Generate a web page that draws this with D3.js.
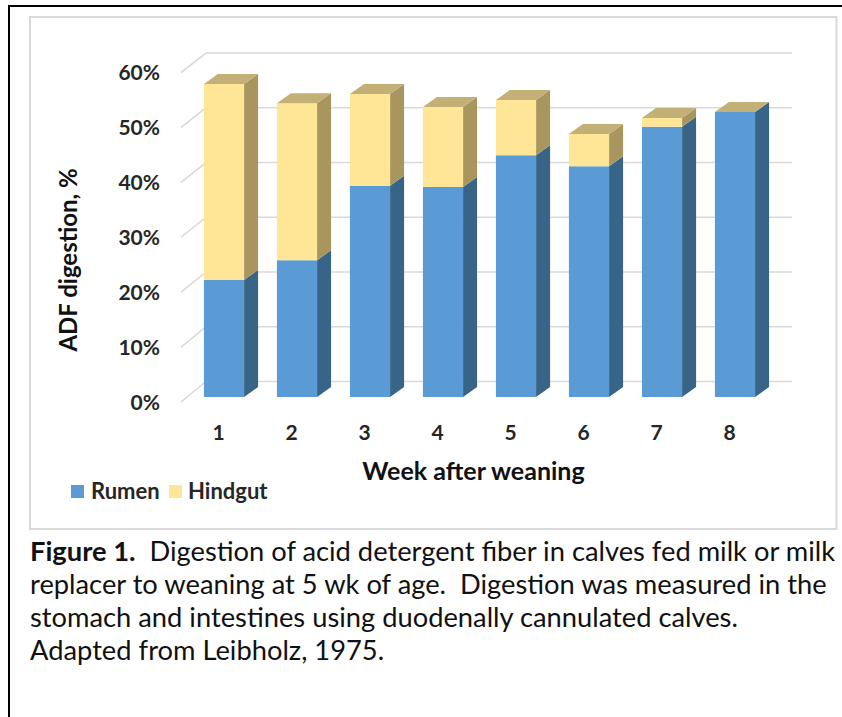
<!DOCTYPE html>
<html><head><meta charset="utf-8">
<script src="https://cdnjs.cloudflare.com/ajax/libs/d3/7.8.5/d3.min.js"></script>
<style>html,body{margin:0;padding:0;background:#fff}svg{display:block}text{font-family:Lato,"Open Sans",sans-serif}</style>
</head><body><svg id="c" width="842" height="717"></svg>
<script>
const weeks=["1","2","3","4","5","6","7","8"];
const rumen=[21.4,25.0,38.6,38.4,44.2,42.2,49.4,52.1];
const hindgut=[35.8,28.7,16.8,14.6,10.1,5.9,1.6,0];
const ticks=[0,10,20,30,40,50,60];
const legendNames=["Rumen","Hindgut"];
const captionLines=[
 [["Figure 1.",true],["  Digestion of acid detergent fiber in calves fed milk or milk",false]],
 [["replacer to weaning at 5 wk of age.  Digestion was measured in the",false]],
 [["stomach and intestines using duodenally cannulated calves.",false]],
 [["Adapted from Leibholz, 1975.",false]]
];
const svg=d3.select("#c");
const x=d3.scaleBand().domain(weeks).range([187.5,771.5]).paddingInner(0.45).paddingOuter(0.225);
const yBar=d3.scaleLinear().domain([0,60]).range([397,68.8]);
const yBack=d3.scaleLinear().domain([0,60]).range([381.5,53]);
const yFront=d3.scaleLinear().domain([0,60]).range([402,72.5]);
const dx=14,dy=10;
svg.append("path").attr("d","M842,6H9V717").attr("fill","none").attr("stroke","#000").attr("stroke-width",2);
svg.append("rect").attr("x",30).attr("y",17).attr("width",806.5).attr("height",512).attr("fill","#fff").attr("stroke","#d9d9d9").attr("stroke-width",2);
const g=svg.append("g").attr("fill","none").attr("stroke","#d9d9d9").attr("stroke-width",1.6);
g.selectAll("path").data(ticks).join("path")
 .attr("d",t=>`M181,${yFront(t)}L206,${yBack(t)}H792`);
const lab=svg.append("g").attr("font-weight",700).attr("font-size",21).attr("fill","#262626");
lab.selectAll("text.y").data(ticks).join("text").attr("class","y").attr("x",160).attr("y",t=>yFront(t)+7.5).attr("text-anchor","end").text(t=>t+"%");
lab.selectAll("text.x").data(weeks).join("text").attr("class","x").attr("x",w=>x(w)+x.bandwidth()/2-5.5).attr("y",440).attr("text-anchor","middle").text(w=>w);
const bg=svg.append("g");
const poly=(pts,fill)=>bg.append("polygon").attr("points",pts.map(p=>p.join(",")).join(" ")).attr("fill",fill);
weeks.forEach((w,i)=>{
 const l=x(w),r=l+x.bandwidth();
 const y0=yBar(0),y1=yBar(rumen[i]),y2=yBar(rumen[i]+hindgut[i]);
 poly([[r,y0],[r+dx,y0-dy],[r+dx,y1-dy],[r,y1]],"#386487");
 poly([[l,y1],[r,y1],[r,y0],[l,y0]],"#5b9bd5");
 if(hindgut[i]>0){
  poly([[r,y1],[r+dx,y1-dy],[r+dx,y2-dy],[r,y2]],"#a9965f");
  poly([[l,y2],[r,y2],[r,y1],[l,y1]],"#ffe596");
 }
 poly([[l,y2],[l+dx,y2-dy],[r+dx,y2-dy],[r,y2]],"#c3b077");
});
svg.append("text").attr("transform","translate(76.5,260) rotate(-90)").attr("text-anchor","middle").attr("font-size",24).attr("font-weight",700).attr("fill","#111").text("ADF digestion, %");
svg.append("text").attr("x",473.5).attr("y",480).attr("text-anchor","middle").attr("font-size",25).attr("font-weight",700).attr("fill","#111").text("Week after weaning");
const colors=["#5b9bd5","#ffe596"],lx=[71,169],ltx=[91,188];
legendNames.forEach((n,i)=>{
 svg.append("rect").attr("x",lx[i]).attr("y",485).attr("width",13).attr("height",13).attr("fill",colors[i]);
 svg.append("text").attr("x",ltx[i]).attr("y",499).attr("font-size",22).attr("font-weight",700).attr("fill","#262626").text(n);
});
captionLines.forEach((parts,i)=>{
 const t=svg.append("text").attr("x",30).attr("y",560.5+i*33).attr("font-size",27.3).attr("fill","#111").attr("xml:space","preserve");
 parts.forEach(p=>t.append("tspan").attr("font-weight",p[1]?700:400).text(p[0]));
});
</script></body></html>
